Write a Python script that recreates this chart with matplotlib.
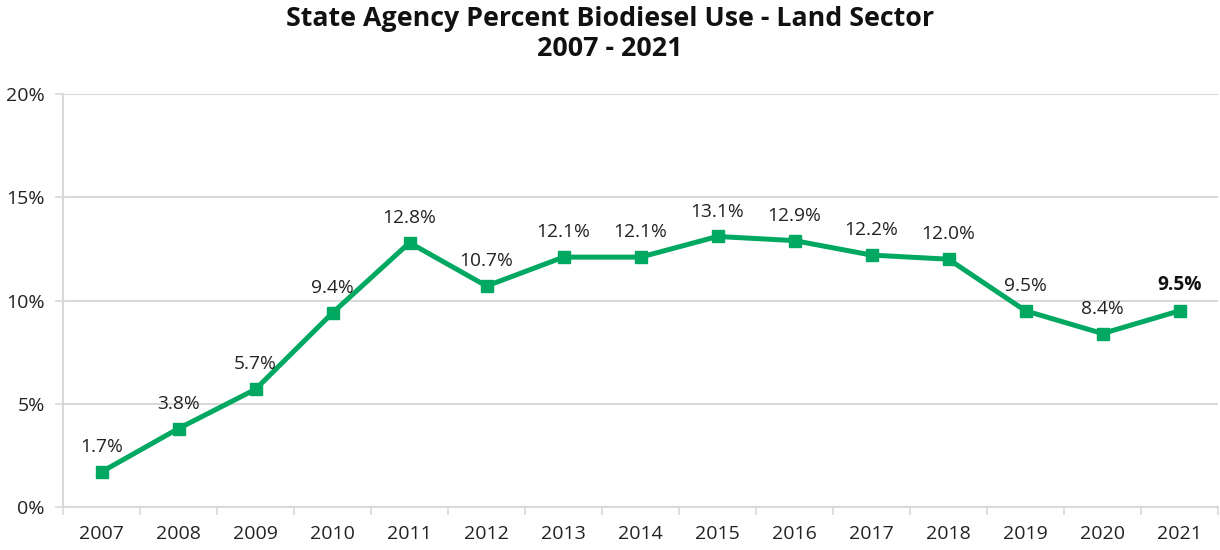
import matplotlib
matplotlib.use("Agg")
import matplotlib.pyplot as plt
from matplotlib.ticker import FixedLocator

years = ["2007", "2008", "2009", "2010", "2011", "2012", "2013", "2014",
         "2015", "2016", "2017", "2018", "2019", "2020", "2021"]
values = [1.7, 3.8, 5.7, 9.4, 12.8, 10.7, 12.1, 12.1, 13.1, 12.9, 12.2, 12.0, 9.5, 8.4, 9.5]
yticks = [0, 5, 10, 15, 20]
title = "State Agency Percent Biodiesel Use - Land Sector\n2007 - 2021"

plt.rcParams['font.family'] = ['Open Sans', 'DejaVu Sans']
GREEN = "#00A862"
GRID = "#D9D9D9"
TXT = "#222222"

fig = plt.figure(figsize=(12.2, 5.5), dpi=100)
ax = fig.add_axes([63/1220, 1 - 507/550, (1218 - 63)/1220, (507 - 94)/550])

x = list(range(len(years)))
ax.plot(x, values, color=GREEN, lw=3.6, marker="s", ms=8.5, zorder=3, clip_on=False)

for i, v in enumerate(values):
    last = i == len(values) - 1
    ax.annotate(f"{v:.1f}%", (i, v), xytext=(0, 11.5), textcoords="offset points",
                ha="center", va="bottom", fontsize=13.8, color="#111111" if last else TXT,
                fontweight="bold" if last else "normal")

ax.set_xlim(-0.5, len(years) - 0.5)
ax.set_ylim(0, 20)
ax.set_yticks(yticks)
ax.set_yticklabels([f"{t}%" for t in yticks])
ax.set_xticks(x)
ax.set_xticklabels(years)
ax.xaxis.set_minor_locator(FixedLocator([i - 0.5 for i in range(len(years) + 1)]))
ax.tick_params(axis="x", which="major", length=0, pad=13, labelsize=14, labelcolor=TXT)
ax.tick_params(axis="x", which="minor", length=6, width=1.2, color=GRID)
ax.tick_params(axis="y", length=6, width=1.2, color=GRID, labelsize=14, labelcolor=TXT, pad=7)
ax.grid(axis="y", color=GRID, lw=1.5, zorder=0)
ax.set_axisbelow(True)
for s in ["top", "right"]:
    ax.spines[s].set_visible(False)
for s in ["left", "bottom"]:
    ax.spines[s].set_color(GRID)
    ax.spines[s].set_linewidth(1.5)

fig.suptitle(title, fontsize=19.3, fontweight="bold", color="#111111", y=0.99, va="top",
             linespacing=1.25)

fig.savefig("out.png", dpi=100)
